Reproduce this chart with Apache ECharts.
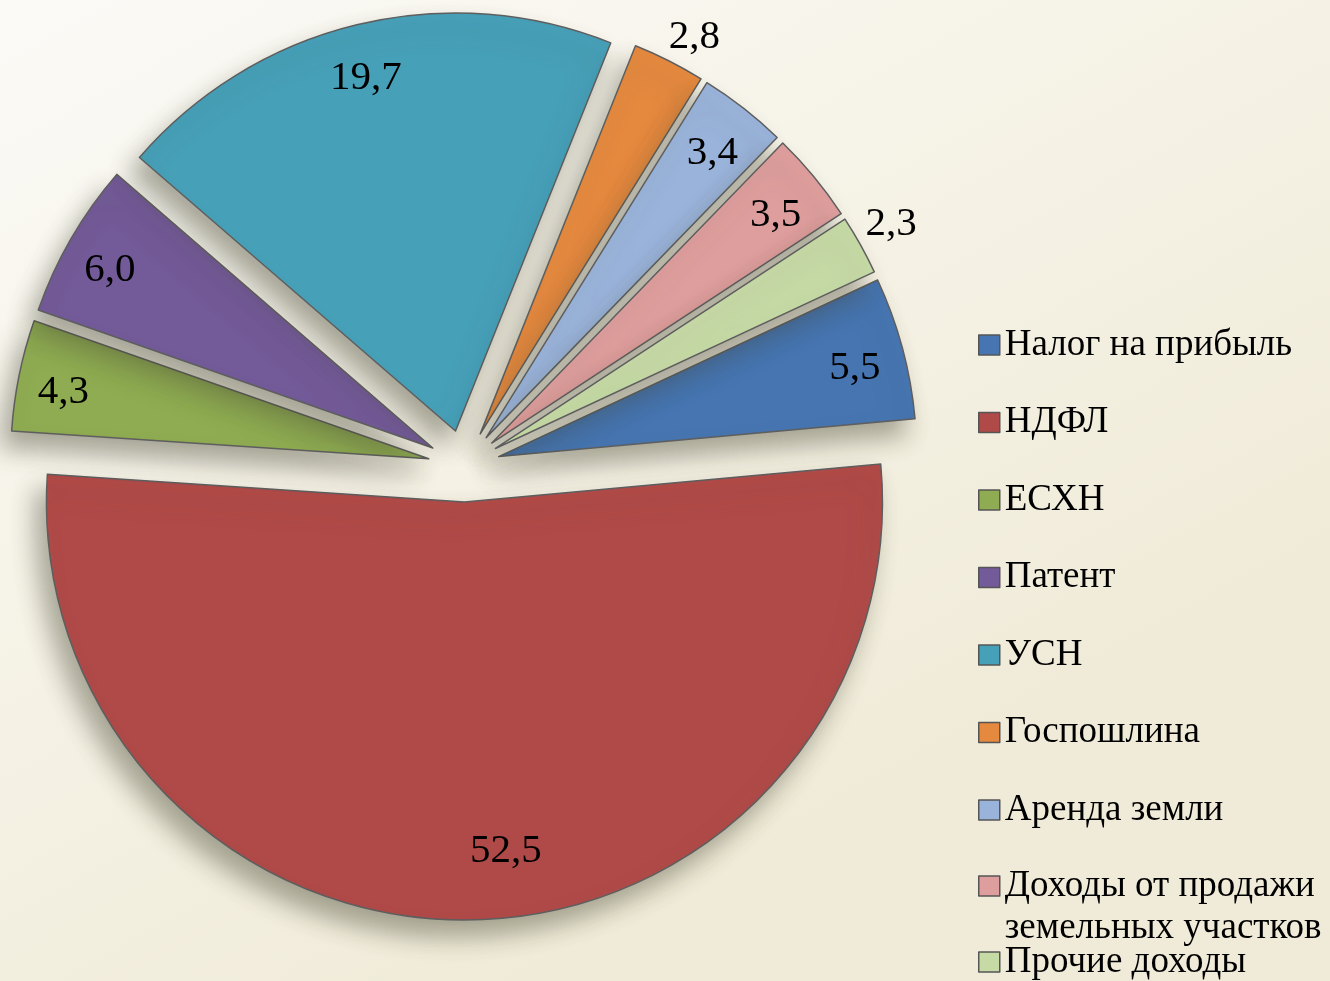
<!DOCTYPE html>
<html>
<head>
<meta charset="utf-8">
<script src="https://cdn.jsdelivr.net/npm/echarts@6/dist/echarts.min.js"></script>
<style>
  html, body { margin: 0; padding: 0; }
  #chart { width: 1330px; height: 981px; }
</style>
</head>
<body>
<div id="chart"></div>
<script>
// категории и доли (%)
var names = ['Налог на прибыль', 'НДФЛ', 'ЕСХН', 'Патент', 'УСН', 'Госпошлина',
             'Аренда земли', 'Доходы от продажи земельных участков', 'Прочие доходы'];
var values = [5.5, 52.5, 4.3, 6.0, 19.7, 2.8, 3.4, 3.5, 2.3];
var colors = ['#4675b1', '#b04a48', '#8fac52', '#735a98', '#46a0b8', '#e5893f',
              '#9ab3da', '#de9e9d', '#c6daa6'];
// подписи, которые стоят снаружи сектора
var outsideLabels = ['Госпошлина', 'Прочие доходы'];

var myChart = echarts.init(document.getElementById('chart'));

var R = 418;
var center = [464, 466];
var serif = "'Liberation Serif', 'Times New Roman', serif";

function fmt(v) {
  return v.toFixed(1).replace('.', ',');
}

var mainData = names.map(function (n, i) {
  return { name: n, value: values[i], selected: true, itemStyle: { color: colors[i] } };
});
var innerLabelData = names.map(function (n, i) {
  return { name: n, value: values[i], selected: true,
    label: { show: outsideLabels.indexOf(n) < 0 } };
});
var outerLabelData = names.map(function (n, i) {
  return { name: n, value: values[i], selected: true,
    label: { show: outsideLabels.indexOf(n) >= 0 } };
});

// небольшая подстройка подписей
var nudge = {
  1: { dx: 37, dy: -22 },  // НДФЛ правее и выше
  5: { dx: 7, dy: 13 },
  8: { dx: -5, dy: -1 }
};

var labelSeries = function (radius, data) {
  return {
    type: 'pie',
    silent: true,
    z: 5,
    startAngle: 25,
    center: center,
    radius: radius,
    selectedMode: 'multiple',
    selectedOffset: 36,
    avoidLabelOverlap: false,
    itemStyle: { color: 'rgba(0,0,0,0)' },
    label: {
      position: 'inside',
      formatter: function (p) { return fmt(p.value); },
      color: '#000',
      fontSize: 41,
      fontFamily: serif
    },
    labelLayout: function (p) {
      return nudge[p.dataIndex] || { dx: -2, dy: 8 };
    },
    labelLine: { show: false },
    emphasis: { disabled: true },
    data: data
  };
};

var legendBase = function (top, items, gap) {
  return {
    orient: 'vertical',
    left: 978,
    top: top,
    padding: 0,
    itemWidth: 21,
    itemHeight: 20,
    itemGap: gap,
    icon: 'rect',
    itemStyle: { borderColor: '#555', borderWidth: 1.5 },
    textStyle: { fontSize: 37, fontFamily: serif, color: '#000', lineHeight: 42 },
    formatter: function (n) {
      // пустая строка сверху, чтобы значок стоял у первой строки
      return n === 'Доходы от продажи земельных участков' ? ' \nДоходы от продажи\nземельных участков' : n;
    },
    data: items
  };
};

var option = {
  backgroundColor: {
    type: 'linear', x: 0, y: 0, x2: 0.4, y2: 1,
    colorStops: [
      { offset: 0, color: '#fbfaf6' },
      { offset: 1, color: '#f0ebd8' }
    ]
  },
  color: colors,
  legend: [
    legendBase(324, names.slice(0, 7), 35.5),
    legendBase(823, names.slice(7, 8), 0),
    legendBase(941, names.slice(8), 0)
  ],
  series: [
    {
      type: 'pie',
      z: 2,
      startAngle: 25,
      center: center,
      radius: [0, R],
      selectedMode: 'multiple',
      selectedOffset: 36,
      itemStyle: {
        borderColor: '#5e5e5e',
        borderWidth: 1.5,
        shadowColor: 'rgba(70,70,50,0.45)',
        shadowBlur: 24,
        shadowOffsetX: -10,
        shadowOffsetY: 16
      },
      label: { show: false },
      labelLine: { show: false },
      emphasis: { scale: false },
      data: mainData
    },
    labelSeries([0.76 * R, R], innerLabelData),
    labelSeries([R, 1.18 * R], outerLabelData)
  ]
};

myChart.setOption(option);
</script>
</body>
</html>
